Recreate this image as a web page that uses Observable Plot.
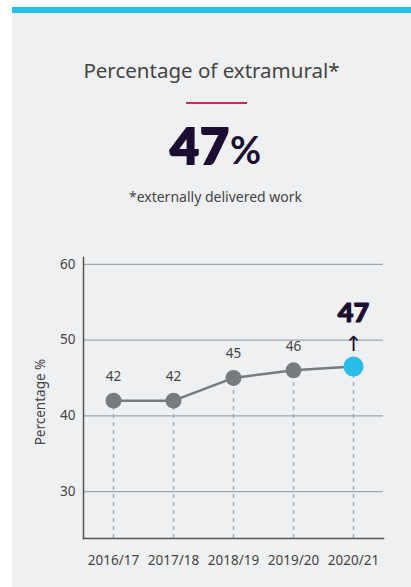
<!DOCTYPE html>
<html>
<head>
<meta charset="utf-8">
<script src="https://cdn.jsdelivr.net/npm/d3@7"></script>
<script src="https://cdn.jsdelivr.net/npm/@observablehq/plot@0.6"></script>
<style>
  html, body { margin: 0; padding: 0; background: #ffffff; }
  body { width: 411px; height: 587px; position: relative; overflow: hidden; font-family: "Noto Sans", "Open Sans", sans-serif; }
  #bar { position: absolute; left: 12px; top: 7px; width: 399px; height: 6px; background: #29bdea; }
  #panel { position: absolute; left: 12px; top: 13px; width: 399px; height: 574px; background: #eff0f2; }
  #title { position: absolute; left: 12px; width: 399px; top: 56px; text-align: center; font-size: 20.5px; color: #444; line-height: 28px; }
  #rule { position: absolute; left: 186px; top: 102px; width: 61px; height: 2px; background: #d4265e; }
  #big { position: absolute; left: 16px; width: 399px; top: 117px; text-align: center; color: #1c0d33; line-height: 56px; font-family: Lato, "Noto Sans", sans-serif; }
  #big .n { font-size: 50px; font-weight: 900; -webkit-text-stroke: 2px #1c0d33; letter-spacing: 1px; }
  #big .p { font-size: 38px; font-weight: 700; }
  #note { position: absolute; left: 16px; width: 399px; top: 187px; text-align: center; font-size: 14px; color: #444; line-height: 20px; }
  #chart { position: absolute; left: 12px; top: 230px; }
</style>
</head>
<body>
<div id="bar"></div>
<div id="panel"></div>
<div id="title">Percentage of extramural*</div>
<div id="rule"></div>
<div id="big"><span class="n">47</span><span class="p">%</span></div>
<div id="note">*externally delivered work</div>
<div id="chart"></div>
<script>
const years = ["2016/17", "2017/18", "2018/19", "2019/20", "2020/21"];
const values = [42, 42, 45, 46, 46.5];
const yTicks = [30, 40, 50, 60];
const yDomain = [23.8, 60.9];

const data = years.map((year, i) => ({year, value: values[i], label: String(Math.round(values[i]))}));
const past = data.slice(0, 4);
const latest = data.slice(4);

const font = '"Noto Sans", "Open Sans", sans-serif';

const chart = Plot.plot({
  width: 399,
  height: 350,
  marginLeft: 71,
  marginRight: 28,
  marginTop: 27,
  marginBottom: 42,
  style: {background: "transparent", fontFamily: font, fontSize: "13px", color: "#444", overflow: "visible"},
  x: {type: "point", domain: years, padding: 0.5, label: null},
  y: {domain: yDomain, label: null},
  marks: [
    Plot.ruleY(yTicks, {stroke: "#9ea6ae", strokeWidth: 1.2}),
    Plot.ruleX(data, {x: "year", y1: yDomain[0], y2: "value", stroke: "#a9afb5", strokeWidth: 1.5, strokeDasharray: "4,4"}),
    Plot.frame({anchor: "left", stroke: "#555", strokeWidth: 1.5}),
    Plot.frame({anchor: "bottom", stroke: "#555", strokeWidth: 1.5}),
    Plot.axisY({ticks: yTicks, tickSize: 0, tickPadding: 8, fontSize: 13.5, label: null}),
    Plot.axisX({tickSize: 0, tickPadding: 17, fontSize: 13.5, label: null}),
    Plot.line(data, {x: "year", y: "value", stroke: "#777b80", strokeWidth: 2.5}),
    Plot.dot(past, {x: "year", y: "value", r: 8, fill: "#777b80"}),
    Plot.dot(latest, {x: "year", y: "value", r: 10, fill: "#29bdea"}),
    Plot.text(past, {x: "year", y: "value", text: "label", dy: -24, fontSize: 13.5, fill: "#444"}),
    Plot.text(latest, {x: "year", y: "value", text: "label", dy: -53, fontSize: 27, fontWeight: 900, fill: "#1c0d33", stroke: "#1c0d33", strokeWidth: 1.2, fontFamily: 'Lato, "Noto Sans", sans-serif'}),
    Plot.text(latest, {x: "year", y: "value", text: d => "↑", dy: -22, fontSize: 21, fill: "#1c0d33", fontFamily: '"DejaVu Sans", sans-serif'}),
    Plot.text(["Percentage %"], {frameAnchor: "left", textAnchor: "middle", rotate: -90, dx: -43, dy: 4, fontSize: 13.5, fill: "#444"})
  ]
});
document.getElementById("chart").appendChild(chart);
</script>
</body>
</html>
